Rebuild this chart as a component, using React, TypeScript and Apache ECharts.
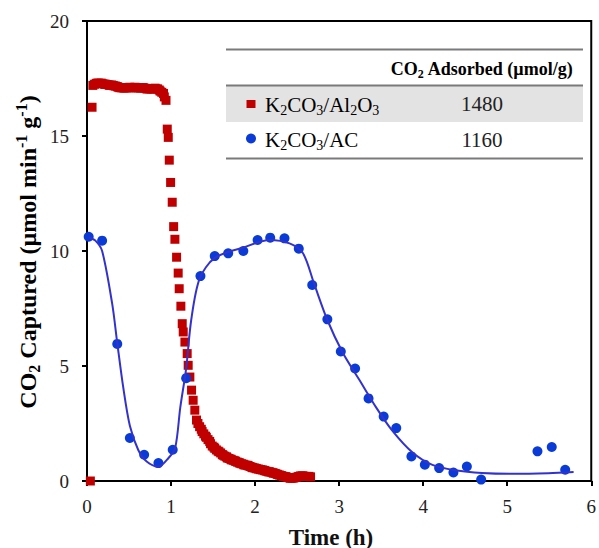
import React, { useEffect, useRef } from 'react';
import * as echarts from 'echarts';

// K2CO3/Al2O3 measured rate (time h, µmol min-1 g-1)
const alPlateau: [number, number][] = [
  [0.04, 0], [0.06, 16.25], [0.07, 17.2], [0.09, 17.25], [0.11, 17.28], [0.12, 17.3], [0.14, 17.3],
  [0.16, 17.28], [0.17, 17.3], [0.19, 17.27], [0.21, 17.25], [0.22, 17.25], [0.24, 17.24], [0.26, 17.22],
  [0.27, 17.2], [0.29, 17.22], [0.31, 17.2], [0.32, 17.18], [0.34, 17.17], [0.36, 17.15], [0.37, 17.12],
  [0.39, 17.1], [0.41, 17.1], [0.42, 17.1], [0.44, 17.08], [0.46, 17.1], [0.47, 17.1], [0.49, 17.1],
  [0.51, 17.12], [0.52, 17.1], [0.54, 17.1], [0.56, 17.1], [0.57, 17.12], [0.59, 17.1], [0.61, 17.1],
  [0.62, 17.1], [0.64, 17.08], [0.66, 17.1], [0.67, 17.1], [0.69, 17.08], [0.71, 17.05], [0.72, 17.05],
  [0.74, 17.05], [0.76, 17.05], [0.77, 17.05], [0.79, 17.05], [0.81, 17.08], [0.82, 17.05], [0.84, 17.05],
  [0.86, 17.0], [0.87, 16.95], [0.89, 16.9], [0.91, 16.85], [0.92, 16.7], [0.94, 16.55],
];
const alDrop: [number, number][] = [
  [0.955, 15.3], [0.967, 14.94], [0.979, 13.95], [0.995, 12.98], [1.014, 12.12], [1.031, 11.06],
  [1.046, 10.51], [1.066, 9.73], [1.085, 9.04], [1.097, 8.36], [1.117, 7.6], [1.133, 6.84], [1.145, 6.48],
  [1.165, 6.04], [1.192, 5.54], [1.204, 5.03], [1.224, 4.52], [1.244, 3.95], [1.263, 3.51], [1.283, 3.08],
  [1.303, 2.65],
];
const alTail: [number, number][] = [
  [1.32, 2.5], [1.34, 2.36], [1.36, 2.25], [1.37, 2.15], [1.39, 2.05], [1.41, 1.95], [1.42, 1.9],
  [1.44, 1.8], [1.46, 1.72], [1.47, 1.62], [1.49, 1.52], [1.51, 1.47], [1.52, 1.42], [1.54, 1.35],
  [1.56, 1.3], [1.57, 1.27], [1.59, 1.22], [1.61, 1.15], [1.62, 1.12], [1.64, 1.08], [1.66, 1.05],
  [1.67, 1.0], [1.69, 0.98], [1.71, 0.95], [1.72, 0.92], [1.74, 0.9], [1.76, 0.88], [1.77, 0.85],
  [1.79, 0.82], [1.81, 0.8], [1.82, 0.77], [1.84, 0.75], [1.86, 0.73], [1.87, 0.7], [1.89, 0.69],
  [1.91, 0.68], [1.92, 0.66], [1.94, 0.63], [1.96, 0.6], [1.97, 0.58], [1.99, 0.57], [2.01, 0.55],
  [2.02, 0.53], [2.04, 0.52], [2.06, 0.5], [2.07, 0.49], [2.09, 0.48], [2.11, 0.46], [2.12, 0.44],
  [2.14, 0.42], [2.16, 0.4], [2.17, 0.4], [2.19, 0.38], [2.21, 0.36], [2.22, 0.34], [2.24, 0.33],
  [2.26, 0.3], [2.27, 0.28], [2.29, 0.26], [2.31, 0.24], [2.32, 0.22], [2.34, 0.2], [2.36, 0.19],
  [2.37, 0.18], [2.39, 0.15], [2.41, 0.14], [2.42, 0.12], [2.44, 0.12], [2.46, 0.13], [2.47, 0.15],
  [2.49, 0.16], [2.51, 0.18], [2.52, 0.2], [2.54, 0.22], [2.56, 0.22], [2.57, 0.22], [2.59, 0.2],
  [2.61, 0.2], [2.62, 0.19], [2.64, 0.2], [2.66, 0.18],
];

// K2CO3/AC measured rate
const acPoints: [number, number][] = [
  [0.02, 10.62], [0.18, 10.45], [0.36, 5.96], [0.51, 1.87], [0.68, 1.14], [0.85, 0.78], [1.02, 1.36],
  [1.18, 4.47], [1.35, 8.91], [1.52, 9.78], [1.68, 9.9], [1.86, 10.0], [2.03, 10.48], [2.18, 10.58],
  [2.35, 10.55], [2.52, 10.1], [2.68, 8.52], [2.86, 7.03], [3.02, 5.63], [3.19, 4.89], [3.35, 3.59],
  [3.53, 2.8], [3.68, 2.3], [3.86, 1.07], [4.02, 0.71], [4.19, 0.56], [4.36, 0.37], [4.52, 0.63],
  [4.69, 0.06], [5.36, 1.29], [5.53, 1.48], [5.69, 0.49],
];

// K2CO3/AC fitted curve
const acFit: [number, number][] = [
  [0.02, 10.6], [0.1, 10.45], [0.18, 10.0], [0.3, 7.7], [0.36, 6.0], [0.43, 4.1], [0.51, 2.4],
  [0.61, 1.35], [0.71, 0.85], [0.85, 0.62], [0.97, 1.0], [1.05, 1.45], [1.11, 3.2], [1.18, 4.9],
  [1.24, 7.0], [1.34, 8.8], [1.52, 9.7], [1.86, 10.15], [2.17, 10.48], [2.41, 10.33], [2.57, 9.9],
  [2.7, 8.6], [2.86, 7.0], [3.04, 5.6], [3.24, 4.4], [3.44, 3.2], [3.63, 2.2], [3.87, 1.25],
  [4.11, 0.7], [4.38, 0.47], [4.7, 0.35], [5.09, 0.31], [5.49, 0.34], [5.79, 0.39],
];

const tableValues = ['1480', '1160'];

const SERIF = '"Liberation Serif", "Times New Roman", serif';
const RED = '#c00000';
const BLUE = '#0b3bd6';
const LINE_BLUE = '#3333cc';

export default function App() {
  const ref = useRef<HTMLDivElement>(null);
  useEffect(() => {
    const chart = echarts.init(ref.current!, null, { renderer: 'svg' });
    const rowRich = {
      n: { fontSize: 21, fontFamily: SERIF, lineHeight: 24, color: '#222' },
      s: { fontSize: 14, fontFamily: SERIF, lineHeight: 13, verticalAlign: 'bottom', color: '#222' },
    };
    chart.setOption({
      animation: false,
      backgroundColor: '#fff',
      grid: { left: 87, right: 6, top: 21, bottom: 67, show: true, borderColor: '#000', borderWidth: 2 },
      xAxis: {
        type: 'value', min: 0, max: 6, interval: 1,
        axisLine: { lineStyle: { color: '#000', width: 2 } },
        axisTick: { inside: false, length: 5, lineStyle: { color: '#000', width: 2 } },
        axisLabel: { fontFamily: SERIF, fontSize: 19, color: '#222', margin: 16 },
        splitLine: { show: false },
      },
      yAxis: {
        type: 'value', min: 0, max: 20, interval: 5,
        axisLine: { lineStyle: { color: '#000', width: 2 } },
        axisTick: { inside: false, length: 5, lineStyle: { color: '#000', width: 2 } },
        axisLabel: { fontFamily: SERIF, fontSize: 19, color: '#222', margin: 18 },
        splitLine: { show: false },
      },
      series: [
        {
          type: 'scatter', data: [...alPlateau, ...alDrop, ...alTail], symbol: 'rect', symbolSize: 9,
          itemStyle: { color: RED, opacity: 1 }, clip: false,
        },
        {
          type: 'line', data: acFit, smooth: 0.3, showSymbol: false, symbol: 'none',
          lineStyle: { color: LINE_BLUE, width: 2 },
        },
        {
          type: 'scatter', data: acPoints, symbol: 'circle', symbolSize: 10,
          itemStyle: { color: BLUE, opacity: 1 }, clip: false,
        },
      ],
      graphic: [
        // y axis title
        {
          type: 'text', x: 28, y: 252, rotation: Math.PI / 2,
          style: {
            text: '{b|CO}{bs|2}{b| Captured (µmol min}{bp|-1}{b| g}{bp|-1}{b|)}',
            align: 'center', verticalAlign: 'middle',
            rich: {
              b: { fontSize: 24, fontWeight: 'bold', fontFamily: SERIF, lineHeight: 29, color: '#111' },
              bs: { fontSize: 16, fontWeight: 'bold', fontFamily: SERIF, lineHeight: 15, verticalAlign: 'bottom', color: '#111' },
              bp: { fontSize: 16, fontWeight: 'bold', fontFamily: SERIF, lineHeight: 15, verticalAlign: 'top', color: '#111' },
            },
          },
        },
        // x axis title
        {
          type: 'text', x: 331, y: 537,
          style: {
            text: 'Time (h)', align: 'center', verticalAlign: 'middle',
            fontSize: 23, fontWeight: 'bold', fontFamily: SERIF, fill: '#111',
          },
        },
        // table
        { type: 'rect', shape: { x: 226, y: 86, width: 357, height: 36 }, style: { fill: '#e3e3e3' } },
        { type: 'line', shape: { x1: 226, y1: 49.5, x2: 583, y2: 49.5 }, style: { stroke: '#7a7a7a', lineWidth: 2 } },
        { type: 'line', shape: { x1: 226, y1: 85.5, x2: 583, y2: 85.5 }, style: { stroke: '#7a7a7a', lineWidth: 2 } },
        { type: 'line', shape: { x1: 226, y1: 158.5, x2: 583, y2: 158.5 }, style: { stroke: '#7a7a7a', lineWidth: 2 } },
        {
          type: 'text', x: 482, y: 69,
          style: {
            text: '{b|CO}{bs|2}{b| Adsorbed (µmol/g)}', align: 'center', verticalAlign: 'middle',
            rich: {
              b: { fontSize: 18, fontWeight: 'bold', fontFamily: SERIF, lineHeight: 21, color: '#222' },
              bs: { fontSize: 12, fontWeight: 'bold', fontFamily: SERIF, lineHeight: 12, verticalAlign: 'bottom', color: '#222' },
            },
          },
        },
        { type: 'rect', shape: { x: 246.5, y: 100, width: 9, height: 8 }, style: { fill: RED } },
        {
          type: 'text', x: 265, y: 105,
          style: { text: '{n|K}{s|2}{n|CO}{s|3}{n|/Al}{s|2}{n|O}{s|3}', align: 'left', verticalAlign: 'middle', rich: rowRich },
        },
        {
          type: 'text', x: 482, y: 104,
          style: { text: tableValues[0], align: 'center', verticalAlign: 'middle', fontSize: 21, fontFamily: SERIF, fill: '#222' },
        },
        { type: 'circle', shape: { cx: 251, cy: 138.5, r: 5 }, style: { fill: BLUE } },
        {
          type: 'text', x: 265, y: 140,
          style: { text: '{n|K}{s|2}{n|CO}{s|3}{n|/AC}', align: 'left', verticalAlign: 'middle', rich: rowRich },
        },
        {
          type: 'text', x: 482, y: 140,
          style: { text: tableValues[1], align: 'center', verticalAlign: 'middle', fontSize: 21, fontFamily: SERIF, fill: '#222' },
        },
      ],
    });
    return () => chart.dispose();
  }, []);
  return (
    <div
      ref={ref}
      style={{ position: 'fixed', left: 0, top: 0, width: 599, height: 548, background: '#fff' }}
    />
  );
}
